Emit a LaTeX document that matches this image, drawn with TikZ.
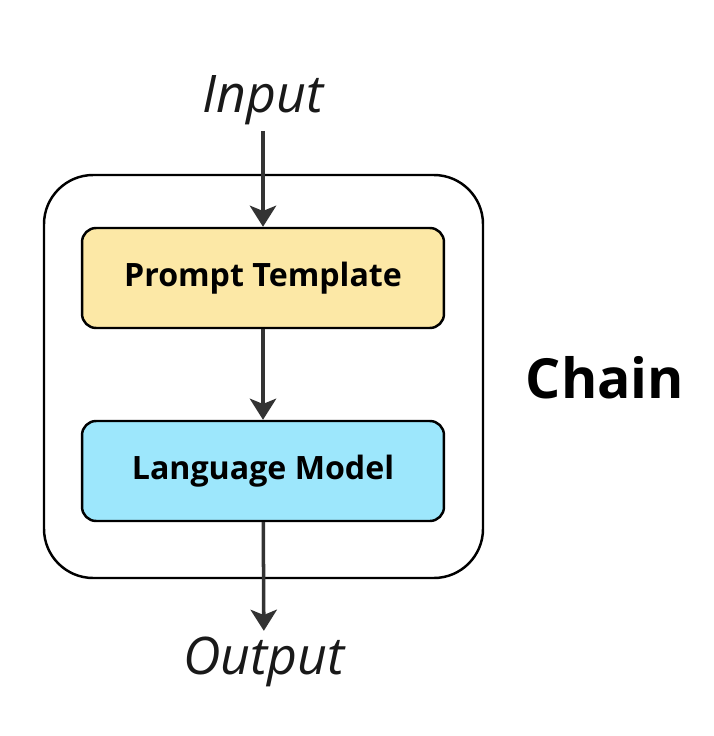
\documentclass[tikz,border=0pt]{standalone}
\usepackage{fontspec}
\setmainfont{Open Sans}
\usetikzlibrary{arrows.meta}
\definecolor{promptyellow}{HTML}{FCE8A6}
\definecolor{modelcyan}{HTML}{9DE7FC}
\definecolor{arrowgray}{HTML}{333333}
\begin{document}
\begin{tikzpicture}[
    x=0.02cm, y=-0.02cm,
    block/.style={draw=black, line width=1.4pt, rounded corners=8pt,
        minimum width=7.24cm, minimum height=2cm, font=\bfseries\fontsize{18.3}{20}\selectfont},
    flow/.style={draw=arrowgray, line width=2pt, -{Stealth[length=12pt,width=15pt,inset=3pt]}},
    label/.style={font=\itshape\fontsize{29.5}{34}\selectfont, text=black!90}
]
    \useasboundingbox (0, 0) rectangle (713, 736);

    % Chain
    \draw[line width=1.4pt, rounded corners=28pt] (44, 175) rectangle (483, 578);
    \node[font=\bfseries\fontsize{31.5}{36}\selectfont] (chain) at (605, 378) {Chain};

    % Boxes
    \node[block, fill=promptyellow] (prompt) at (263, 278) {Prompt Template};
    \node[block, fill=modelcyan] (model) at (263, 471) {Language Model};

    % Input and output
    \node[label] (input) at (263, 100) {Input};
    \node[label] (output) at (264, 662) {Output};

    % Arrows
    \draw[flow] (input) -- (prompt);
    \draw[flow] (prompt) -- (model);
    \draw[flow] (model) -- (output);
\end{tikzpicture}
\end{document}
